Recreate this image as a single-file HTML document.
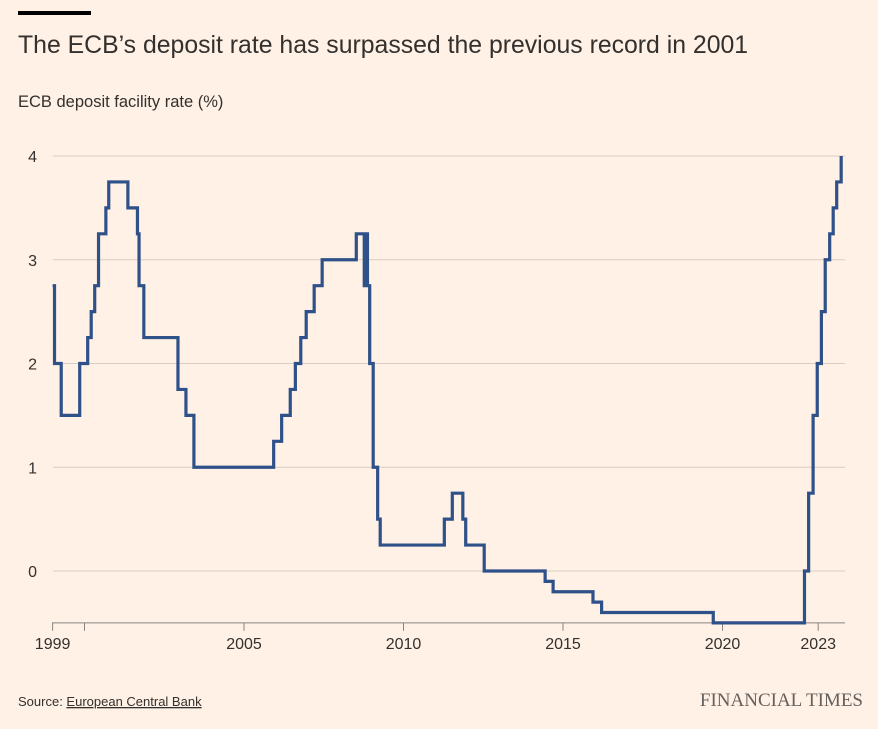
<!DOCTYPE html>
<html><head><meta charset="utf-8"><style>
body{margin:0;background:#fff1e5;font-family:"Liberation Sans",sans-serif;}
svg{display:block}
</style></head><body>
<svg width="878" height="729">
<rect x="0" y="0" width="878" height="729" fill="#fff1e5"/>
<rect x="18" y="11" width="73" height="4" fill="#000"/>
<text x="18" y="53" font-size="24.8" fill="#33302e">The ECB’s deposit rate has surpassed the previous record in 2001</text>
<text x="18" y="107" font-size="16.5" fill="#33302e">ECB deposit facility rate (%)</text>
<g id="grid"></g><g id="xaxis"></g>
<path id="line" fill="none" stroke="#2f5189" stroke-width="3.2" stroke-linejoin="miter"/>
<text x="18" y="706" font-size="13" fill="#33302e">Source: <tspan text-decoration="underline">European Central Bank</tspan></text>
<text x="863" y="706" font-size="19" fill="#66605c" text-anchor="end" font-family="Liberation Serif, serif">FINANCIAL TIMES</text>
</svg>
<script>
const dates=[1999.0,1999.06,1999.27,1999.85,2000.10,2000.21,2000.32,2000.44,2000.67,2000.76,2001.36,2001.66,2001.71,2001.86,2002.93,2003.18,2003.43,2005.93,2006.18,2006.45,2006.61,2006.78,2006.95,2007.20,2007.45,2008.52,2008.77,2008.775,2008.87,2008.94,2009.05,2009.19,2009.27,2011.28,2011.53,2011.86,2011.95,2012.53,2014.44,2014.69,2015.94,2016.21,2019.71,2022.57,2022.70,2022.84,2022.97,2023.10,2023.22,2023.36,2023.47,2023.58,2023.72];
const rates=[2.75,2.0,1.5,2.0,2.25,2.5,2.75,3.25,3.5,3.75,3.5,3.25,2.75,2.25,1.75,1.5,1.0,1.25,1.5,1.75,2.0,2.25,2.5,2.75,3.0,3.25,2.75,3.25,2.75,2.0,1.0,0.5,0.25,0.5,0.75,0.5,0.25,0.0,-0.1,-0.2,-0.3,-0.4,-0.5,0.0,0.75,1.5,2.0,2.5,3.0,3.25,3.5,3.75,4.0];
const yTicks=[0,1,2,3,4];
const xTicks=[1999,2000,2005,2010,2015,2020,2023];
const xLabels=["1999","","2005","2010","2015","2020","2023"];
const endYear=2023.72;
const X=y=>52.6+(y-1999)*31.9;
const Y=v=>571-v*103.75;
const NS="http://www.w3.org/2000/svg";
const grid=document.getElementById('grid');
yTicks.forEach(t=>{
 const l=document.createElementNS(NS,'line');
 l.setAttribute('x1',53);l.setAttribute('x2',845);l.setAttribute('y1',Y(t));l.setAttribute('y2',Y(t));
 l.setAttribute('stroke','#d9cdc2');l.setAttribute('stroke-width',1);
 
 
 grid.appendChild(l);
 const tx=document.createElementNS(NS,'text');
 tx.setAttribute('x',37);tx.setAttribute('y',Y(t)+6);tx.setAttribute('font-size',16);tx.setAttribute('fill','#33302e');tx.setAttribute('text-anchor','end');
 tx.textContent=t;
 
 
 grid.appendChild(tx);
});
const xa=document.getElementById('xaxis');
const base=Y(-0.5);
const ax=document.createElementNS(NS,'line');
ax.setAttribute('x1',52);ax.setAttribute('x2',845);ax.setAttribute('y1',base);ax.setAttribute('y2',base);ax.setAttribute('stroke','#8a8580');


xa.appendChild(ax);
xTicks.forEach((t,i)=>{
 const l=document.createElementNS(NS,'line');
 l.setAttribute('x1',X(t));l.setAttribute('x2',X(t));l.setAttribute('y1',base);l.setAttribute('y2',base+8);l.setAttribute('stroke','#8a8580');
 
 
 xa.appendChild(l);
 if(xLabels[i]){
 const tx=document.createElementNS(NS,'text');
 tx.setAttribute('x',X(t));tx.setAttribute('y',base+26);tx.setAttribute('font-size',16);tx.setAttribute('fill','#33302e');tx.setAttribute('text-anchor','middle');
 tx.textContent=xLabels[i];
 
 
 xa.appendChild(tx);}
});
let d='M'+X(dates[0])+','+Y(rates[0]);
for(let i=1;i<dates.length;i++){d+=' H'+X(dates[i])+' V'+Y(rates[i]);}
d+=' H'+X(endYear);
document.getElementById('line').setAttribute('d',d);
</script>
</body></html>
